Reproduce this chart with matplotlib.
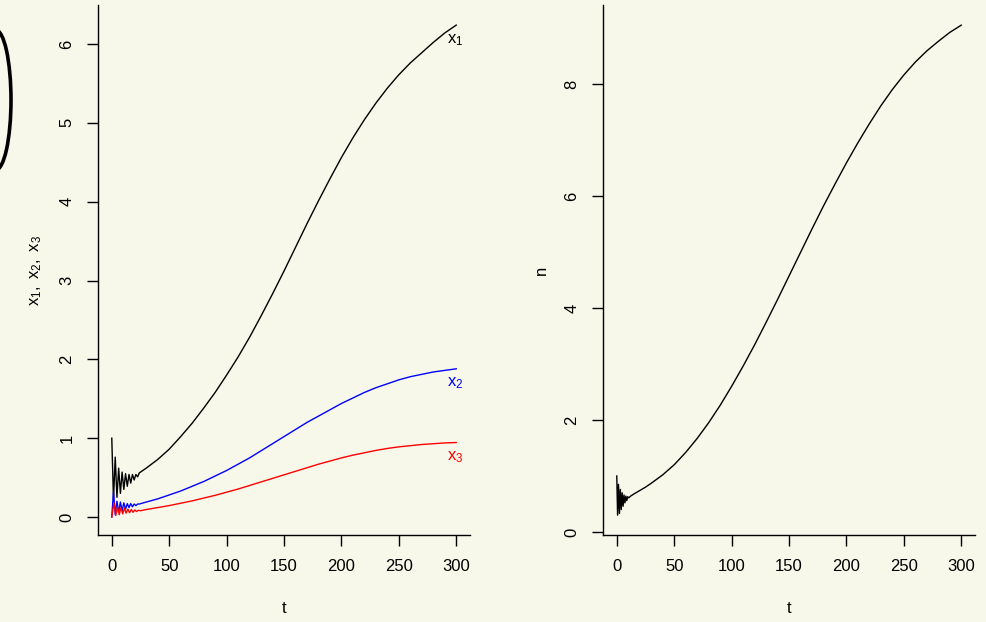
import matplotlib
matplotlib.use("Agg")
import matplotlib.pyplot as plt
from matplotlib.patches import Ellipse

plt.rcParams['font.family'] = ['Liberation Sans', 'DejaVu Sans']
plt.rcParams['mathtext.fontset'] = 'custom'
plt.rcParams['mathtext.rm'] = 'Liberation Sans'
plt.rcParams['mathtext.it'] = 'Liberation Sans'

BG = '#F7F7EA'

# ---- left panel data ----
t_x1 = [0, 1.5, 3.0, 4.5, 6.0, 7.5, 9.0, 10.5, 12.0, 13.5, 15.0, 16.5, 18.0, 19.5, 21.0, 22.5, 24,
        30, 40, 50, 60, 70, 80, 90, 100, 110, 120, 130, 140, 150, 160, 170, 180, 190, 200,
        210, 220, 230, 240, 250, 260, 270, 280, 290, 300]
x1 = [1.00, 0.22, 0.76, 0.25, 0.62, 0.30, 0.57, 0.35, 0.55, 0.39, 0.54, 0.43, 0.54, 0.47, 0.54, 0.51, 0.56,
      0.62, 0.73, 0.86, 1.02, 1.19, 1.38, 1.58, 1.80, 2.03, 2.28, 2.55, 2.83, 3.12, 3.42, 3.72, 4.01, 4.29, 4.56,
      4.81, 5.04, 5.25, 5.44, 5.61, 5.76, 5.89, 6.02, 6.14, 6.24]

t_x2 = [0, 1.5, 3.0, 4.5, 6.0, 7.5, 9.0, 10.5, 12.0, 13.5, 15.0, 16.5, 18.0, 19.5, 21.0, 22.5, 24,
        30, 40, 50, 60, 70, 80, 90, 100, 110, 120, 130, 140, 150, 160, 170, 180, 190, 200,
        210, 220, 230, 240, 250, 260, 270, 280, 290, 300]
x2 = [0.00, 0.32, 0.03, 0.20, 0.06, 0.19, 0.08, 0.18, 0.10, 0.17, 0.12, 0.17, 0.13, 0.165, 0.145, 0.165, 0.165,
      0.19, 0.23, 0.28, 0.33, 0.39, 0.45, 0.52, 0.59, 0.67, 0.75, 0.84, 0.93, 1.02, 1.11, 1.20, 1.28, 1.36, 1.44,
      1.51, 1.58, 1.64, 1.69, 1.74, 1.78, 1.81, 1.84, 1.86, 1.88]

t_x3 = [0, 1.0, 2.0, 3.5, 5.0, 6.5, 8.0, 9.5, 11.0, 12.5, 14.0, 15.5, 17.0, 18.5, 20.0, 21.5, 23.0, 25,
        30, 40, 50, 60, 70, 80, 90, 100, 110, 120, 130, 140, 150, 160, 170, 180, 190, 200,
        210, 220, 230, 240, 250, 260, 270, 280, 290, 300]
x3 = [0.00, 0.10, 0.18, 0.02, 0.13, 0.03, 0.12, 0.04, 0.11, 0.05, 0.10, 0.055, 0.095, 0.06, 0.09, 0.07, 0.085, 0.08,
      0.095, 0.12, 0.145, 0.175, 0.205, 0.24, 0.275, 0.315, 0.355, 0.40, 0.445, 0.49, 0.535, 0.58, 0.625, 0.67, 0.71, 0.75,
      0.785, 0.815, 0.845, 0.87, 0.89, 0.905, 0.92, 0.93, 0.94, 0.945]

# ---- right panel data ----
t_n = [0, 0.7, 1.5, 2.3, 3.1, 3.9, 4.7, 5.5, 6.3, 7.1, 7.9, 8.7, 9.5, 10.5, 12, 15, 20, 25, 30,
       40, 50, 60, 70, 80, 90, 100, 110, 120, 130, 140, 150, 160, 170, 180, 190, 200,
       210, 220, 230, 240, 250, 260, 270, 280, 290, 300]
n = [1.00, 0.30, 0.85, 0.33, 0.76, 0.40, 0.70, 0.46, 0.66, 0.52, 0.64, 0.56, 0.63, 0.61, 0.64,
     0.68, 0.74, 0.80, 0.87, 1.02, 1.20, 1.42, 1.67, 1.95, 2.26, 2.60, 2.96, 3.34, 3.74, 4.15,
     4.57, 4.99, 5.41, 5.82, 6.21, 6.59, 6.95, 7.29, 7.61, 7.90, 8.16, 8.39, 8.59, 8.76, 8.92, 9.05]

x_ticks = [0, 50, 100, 150, 200, 250, 300]
left_yticks = [0, 1, 2, 3, 4, 5, 6]
right_yticks = [0, 2, 4, 6, 8]
labels = [r'$\mathregular{x_1}$', r'$\mathregular{x_2}$', r'$\mathregular{x_3}$']
label_pos = [(299, 6.05), (299, 1.70), (299, 0.76)]
colors = ['black', 'blue', 'red']

W, H = 986, 622
fig = plt.figure(figsize=(W / 100, H / 100), dpi=100, facecolor=BG)

def make_axes(x0, x1p):
    return fig.add_axes([x0 / W, (H - 535) / H, (x1p - x0) / W, 530 / H], facecolor=BG)

axL = make_axes(98, 470)
axR = make_axes(603, 975)

def style(ax):
    for s in ['top', 'right']:
        ax.spines[s].set_visible(False)
    for s in ['left', 'bottom']:
        ax.spines[s].set_linewidth(1.0)
    ax.tick_params(direction='out', length=8, width=1.0, labelsize=12, pad=9, colors='black')
    ax.tick_params(axis='y', labelrotation=90)
    ax.set_xticks(x_ticks)
    ax.set_xlim(-12, 312)
    for lab in ax.get_yticklabels():
        lab.set_va('center')

# left
axL.plot(t_x1, x1, color=colors[0], lw=1.0)
axL.plot(t_x2, x2, color=colors[1], lw=1.0)
axL.plot(t_x3, x3, color=colors[2], lw=1.0)
axL.set_yticks(left_yticks)
axL.set_ylim(-0.228, 6.495)
style(axL)
for lab, (tx, ty), c in zip(labels, label_pos, colors):
    axL.text(tx, ty, lab, color=c, fontsize=12, ha='center', va='center')
axL.set_xlabel('t', fontsize=12)
axL.set_ylabel(r'$\mathregular{x_1,\ x_2,\ x_3}$', fontsize=12)
axL.xaxis.set_label_coords(0.5, -0.125)
axL.yaxis.set_label_coords(-0.145, 0.5)

# right
axR.plot(t_n, n, color='black', lw=1.0)
axR.set_yticks(right_yticks)
axR.set_ylim(-0.054, 9.41)
style(axR)
axR.set_xlabel('t', fontsize=12)
axR.set_ylabel('n', fontsize=12)
axR.xaxis.set_label_coords(0.5, -0.125)
axR.yaxis.set_label_coords(-0.145, 0.5)

# stray arc at the left edge of the picture
arc = Ellipse((-4.4 / W, (H - 100) / H), 30.8 / W, 140 / H, transform=fig.transFigure,
              fill=False, edgecolor='black', lw=2.6, clip_on=False)
fig.add_artist(arc)

fig.savefig('out.png', dpi=100, facecolor=BG)
